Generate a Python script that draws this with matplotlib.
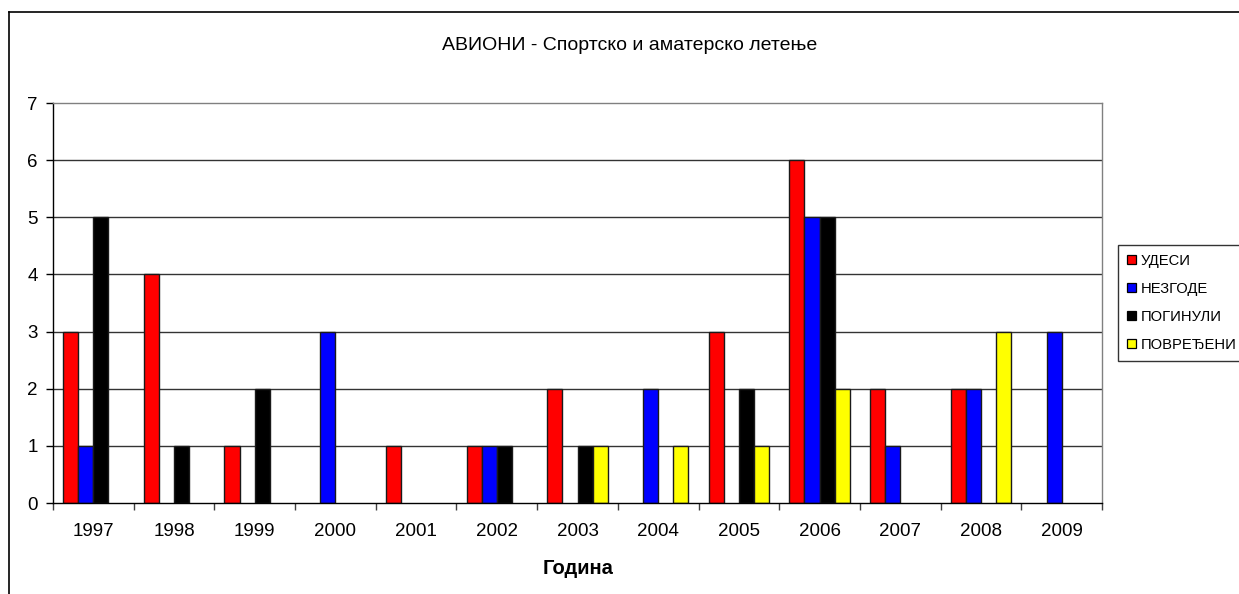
import numpy as np
import matplotlib
matplotlib.use("Agg")
import matplotlib.pyplot as plt
from matplotlib.lines import Line2D
from matplotlib.ticker import FixedLocator, NullFormatter

plt.rcParams['font.family'] = ['Liberation Sans', 'DejaVu Sans']

years = ['1997', '1998', '1999', '2000', '2001', '2002', '2003',
         '2004', '2005', '2006', '2007', '2008', '2009']
udesi = [3, 4, 1, 0, 1, 1, 2, 0, 3, 6, 2, 2, 0]
nezgode = [1, 0, 0, 3, 0, 1, 0, 2, 0, 5, 1, 2, 3]
poginuli = [5, 1, 2, 0, 0, 1, 1, 0, 2, 5, 0, 0, 0]
povredjeni = [0, 0, 0, 0, 0, 0, 1, 1, 1, 2, 0, 3, 0]

series_names = ['УДЕСИ', 'НЕЗГОДЕ', 'ПОГИНУЛИ', 'ПОВРЕЂЕНИ']
series_vals = [udesi, nezgode, poginuli, povredjeni]
colors = ['#ff0000', '#0000ff', '#000000', '#ffff00']

W, H = 1239, 594
fig = plt.figure(figsize=(W / 100, H / 100), dpi=100)

left, right, top, bottom = 53, 1102, 103, 503
ax = fig.add_axes([left / W, 1 - bottom / H, (right - left) / W, (bottom - top) / H])

x = np.arange(len(years))
bw = 0.1875
for i, (name, vals, c) in enumerate(zip(series_names, series_vals, colors)):
    v = np.array(vals, dtype=float)
    pos = x - 1.5 * bw + i * bw
    mask = v > 0
    ax.bar(pos[mask], v[mask], width=bw, color=c, edgecolor='#1a1a1a',
           linewidth=1.0, zorder=3)
    # legend proxy
    ax.bar([np.nan], [np.nan], width=bw, color=c, edgecolor='black',
           linewidth=0.9, label=name)

ax.set_xlim(-0.5, len(years) - 0.5)
ax.set_ylim(0, 7)
ax.set_yticks(range(0, 8))
ax.set_xticks(x)
ax.set_xticklabels(years)
ax.xaxis.set_minor_locator(FixedLocator(np.arange(-0.5, len(years), 1.0)))
ax.xaxis.set_minor_formatter(NullFormatter())
ax.tick_params(axis='x', which='major', length=0, pad=14.5, labelsize=13.5)
ax.tick_params(axis='x', which='minor', length=5, width=1, color='#404040')
ax.tick_params(axis='y', length=5, width=1, labelsize=13.5, pad=6)

for yv in range(1, 7):
    ax.axhline(yv, color='#333333', linewidth=1.0, zorder=1)

ax.spines['left'].set_color('black')
ax.spines['bottom'].set_color('black')
ax.spines['top'].set_color('#808080')
ax.spines['right'].set_color('#808080')
for s in ax.spines.values():
    s.set_linewidth(1.0)
    s.set_zorder(4)

fig.text(578 / W, 1 - 568 / H, 'Година', ha='center', va='center',
         fontsize=14.5, fontweight='bold')
fig.text(630 / W, 1 - 45 / H, 'АВИОНИ - Спортско и аматерско летење',
         ha='center', va='center', fontsize=14)

leg = fig.legend(loc='upper left', bbox_to_anchor=(1118 / W, 1 - 245 / H),
                 frameon=True, fancybox=False, shadow=False, fontsize=10.6,
                 handlelength=0.6, handleheight=0.6, handletextpad=0.35,
                 labelspacing=0.95, borderpad=0.6, borderaxespad=0)
leg.get_frame().set_edgecolor('black')
leg.get_frame().set_linewidth(1.0)

# outer chart frame
fig.add_artist(Line2D([9 / W, 9 / W], [0, 1 - 12 / H], transform=fig.transFigure,
                      color='black', linewidth=1.2))
fig.add_artist(Line2D([9 / W, 1], [1 - 12 / H, 1 - 12 / H], transform=fig.transFigure,
                      color='black', linewidth=1.2))

fig.savefig('out.png', dpi=100)
